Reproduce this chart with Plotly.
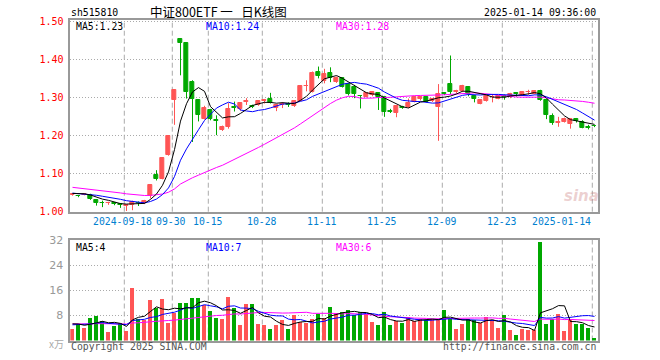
import plotly.graph_objects as go

# ---------------- data ----------------
dates = [
    "2024-09-03","2024-09-04","2024-09-05","2024-09-06","2024-09-09","2024-09-10","2024-09-11","2024-09-12","2024-09-13",
    "2024-09-18","2024-09-19","2024-09-20","2024-09-23","2024-09-24","2024-09-25","2024-09-26","2024-09-27","2024-09-30",
    "2024-10-08","2024-10-09","2024-10-10","2024-10-11","2024-10-14","2024-10-15","2024-10-16","2024-10-17","2024-10-18",
    "2024-10-21","2024-10-22","2024-10-23","2024-10-24","2024-10-25","2024-10-28","2024-10-29","2024-10-30","2024-10-31",
    "2024-11-01","2024-11-04","2024-11-05","2024-11-06","2024-11-07","2024-11-08","2024-11-11","2024-11-12","2024-11-13",
    "2024-11-14","2024-11-15","2024-11-18","2024-11-19","2024-11-20","2024-11-21","2024-11-22","2024-11-25","2024-11-26",
    "2024-11-27","2024-11-28","2024-11-29","2024-12-02","2024-12-03","2024-12-04","2024-12-05","2024-12-06","2024-12-09",
    "2024-12-10","2024-12-11","2024-12-12","2024-12-13","2024-12-16","2024-12-17","2024-12-18","2024-12-19","2024-12-20",
    "2024-12-23","2024-12-24","2024-12-25","2024-12-26","2024-12-27","2024-12-30","2024-12-31","2025-01-02","2025-01-03",
    "2025-01-06","2025-01-07","2025-01-08","2025-01-09","2025-01-10","2025-01-13","2025-01-14",
]

open_ = [1.044,1.041,1.044,1.044,1.030,1.024,1.022,1.022,1.019,1.015,1.017,1.024,1.023,1.040,1.096,1.087,1.150,1.293,
         1.453,1.443,1.340,1.293,1.244,1.267,1.242,1.214,1.223,1.276,1.270,1.288,1.278,1.281,1.290,1.296,1.272,1.281,
         1.282,1.277,1.291,1.329,1.315,1.367,1.343,1.363,1.341,1.350,1.335,1.328,1.305,1.302,1.306,1.311,1.302,1.265,
         1.258,1.276,1.274,1.289,1.295,1.300,1.291,1.276,1.312,1.335,1.314,1.317,1.328,1.303,1.284,1.291,1.300,1.297,
         1.303,1.300,1.311,1.307,1.313,1.310,1.317,1.293,1.252,1.233,1.236,1.229,1.243,1.236,1.222,1.226]
high = [1.047,1.043,1.047,1.047,1.031,1.029,1.026,1.025,1.021,1.020,1.029,1.027,1.031,1.071,1.109,1.141,1.199,1.320,
        1.455,1.444,1.345,1.294,1.278,1.270,1.253,1.226,1.285,1.289,1.287,1.298,1.281,1.293,1.296,1.312,1.283,1.288,
        1.287,1.292,1.331,1.345,1.368,1.381,1.375,1.379,1.355,1.353,1.337,1.333,1.306,1.314,1.314,1.313,1.304,1.270,
        1.279,1.278,1.297,1.304,1.304,1.302,1.297,1.335,1.314,1.410,1.320,1.333,1.329,1.305,1.295,1.306,1.309,1.305,
        1.308,1.312,1.314,1.315,1.320,1.318,1.320,1.294,1.258,1.249,1.247,1.246,1.246,1.240,1.228,1.228]
low = [1.042,1.038,1.043,1.031,1.016,1.012,1.018,1.017,1.010,1.002,1.004,1.015,1.020,1.035,1.082,1.085,1.147,1.228,
       1.358,1.297,1.183,1.237,1.242,1.240,1.201,1.212,1.218,1.263,1.265,1.280,1.272,1.278,1.284,1.284,1.264,1.272,
       1.275,1.275,1.290,1.316,1.313,1.350,1.337,1.340,1.338,1.326,1.305,1.298,1.271,1.300,1.303,1.267,1.249,1.259,
       1.248,1.270,1.272,1.287,1.292,1.287,1.288,1.186,1.306,1.309,1.310,1.314,1.303,1.287,1.282,1.289,1.287,1.295,
       1.294,1.298,1.302,1.306,1.307,1.308,1.291,1.243,1.228,1.223,1.234,1.218,1.234,1.219,1.216,1.222]
close = [1.046,1.040,1.046,1.034,1.023,1.022,1.024,1.020,1.017,1.017,1.025,1.022,1.028,1.070,1.087,1.140,1.198,1.320,
         1.444,1.315,1.295,1.255,1.271,1.243,1.239,1.223,1.269,1.273,1.286,1.290,1.276,1.291,1.292,1.286,1.279,1.283,
         1.280,1.290,1.330,1.331,1.365,1.357,1.361,1.352,1.352,1.328,1.309,1.309,1.303,1.312,1.313,1.302,1.262,1.263,
         1.277,1.273,1.286,1.302,1.301,1.289,1.295,1.309,1.310,1.315,1.316,1.331,1.309,1.296,1.293,1.304,1.302,1.303,
         1.300,1.310,1.309,1.313,1.315,1.317,1.293,1.254,1.232,1.236,1.243,1.243,1.237,1.221,1.220,1.225]
volume = [3.7,5.2,4.0,7.2,7.9,6.3,2.8,4.7,5.5,3.1,16.8,6.8,6.5,13.0,10.5,13.3,5.7,8.9,
          12.0,12.0,13.6,13.6,11.4,9.5,7.2,6.9,13.9,10.3,5.0,11.7,11.7,5.3,5.0,3.7,5.0,6.6,
          3.7,8.2,6.0,5.7,6.8,8.4,7.3,10.7,8.6,9.1,9.8,8.2,9.0,8.4,6.0,4.8,9.1,5.0,
          6.1,5.7,7.5,6.1,7.0,6.6,6.9,6.6,9.8,7.3,3.7,5.1,6.9,6.5,5.7,7.5,6.5,4.0,
          8.0,3.4,1.8,3.8,3.5,3.5,31.5,5.3,6.8,8.5,3.1,6.5,5.1,5.1,4.0,0.85]

# closes / volumes of the 29 sessions before the window (needed for the moving averages)
prior_close = [1.090,1.085,1.082,1.078,1.080,1.083,1.086,1.084,1.088,
               1.075,1.068,1.062,1.060,1.063,1.058,1.057,1.060,1.055,1.054,1.063,
               1.052,1.050,1.047,1.051,1.048,1.045,1.046,1.050,1.053]
prior_volume = [6.2,5.8,5.1,4.9,5.6,6.0,5.3,4.8,5.2,5.9,5.5,5.0,4.7,5.8,6.1,5.4,5.2,5.6,5.3,5.6,
                4.5,5.0,4.4,4.9,4.7,5.4,6.1,5.5,5.8]

tick_dates = ["2024-09-18","2024-09-30","2024-10-15","2024-10-28","2024-11-11","2024-11-25",
              "2024-12-09","2024-12-23","2025-01-14"]
tick_labels = ["2024-09-18","09-30","10-15","10-28","11-11","11-25","12-09","12-23","2025-01-14"]

price_ticks = [1.0, 1.1, 1.2, 1.3, 1.4, 1.5]
vol_ticks = [8, 16, 24, 32]

# ---------------- helpers ----------------
def moving_avg(prior, values, n):
    seq = list(prior) + list(values)
    off = len(prior)
    return [sum(seq[off + i - n + 1: off + i + 1]) / n for i in range(len(values))]

W, H = 660, 360
def px(x):
    return x / W
def py(y):
    return 1 - y / H

RED = "#ff5555"
GREEN = "#00a800"
MONO = "DejaVu Sans Mono"
FS = 9.8

n = len(dates)
xs = list(range(n))
is_up = [c >= o for o, c in zip(open_, close)]
colors = [RED if u else GREEN for u in is_up]

ma5 = moving_avg(prior_close, close, 5)
ma10 = moving_avg(prior_close, close, 10)
ma30 = moving_avg(prior_close, close, 30)
vma5 = moving_avg(prior_volume, volume, 5)
vma10 = moving_avg(prior_volume, volume, 10)
vma30 = moving_avg(prior_volume, volume, 30)

fig = go.Figure()

# wicks
for col, flag in ((RED, True), (GREEN, False)):
    wx, wy = [], []
    for i in xs:
        if is_up[i] == flag:
            wx += [i, i, None]
            wy += [low[i], high[i], None]
    fig.add_trace(go.Scatter(x=wx, y=wy, mode="lines", line=dict(color=col, width=1),
                             hoverinfo="skip", showlegend=False, xaxis="x", yaxis="y"))

# bodies
fig.add_trace(go.Bar(
    x=xs, y=[abs(c - o) for o, c in zip(open_, close)], base=[min(o, c) for o, c in zip(open_, close)],
    width=0.62, marker=dict(color=colors, line=dict(color=colors, width=1)),
    showlegend=False, xaxis="x", yaxis="y"))

for vals, col in ((ma30, "#ff00ff"), (ma10, "#0000ff"), (ma5, "#000000")):
    fig.add_trace(go.Scatter(x=xs, y=vals, mode="lines", line=dict(color=col, width=1),
                             showlegend=False, xaxis="x", yaxis="y"))

# volume
fig.add_trace(go.Bar(x=xs, y=volume, width=0.72, marker=dict(color=colors, line=dict(width=0)),
                     showlegend=False, xaxis="x2", yaxis="y2"))
for vals, col in ((vma30, "#ff00ff"), (vma10, "#0000ff"), (vma5, "#000000")):
    fig.add_trace(go.Scatter(x=xs, y=vals, mode="lines", line=dict(color=col, width=1),
                             showlegend=False, xaxis="x2", yaxis="y2"))

# ---------------- layout ----------------
x_left, x_right = 70.3, 597.7
slot = 6.0
first_center = 72.5
x_range = [(x_left - first_center) / slot, (x_right - first_center) / slot]
edge = -2.2 / slot  # grid lines sit at the left edge of the candle

axis_common = dict(showline=True, mirror=True, linecolor="#999999", linewidth=1.5,
                   zeroline=False, fixedrange=True, automargin=False)
fig.update_layout(
    width=W, height=H, autosize=False,
    margin=dict(l=0, r=0, t=0, b=0, pad=0, autoexpand=False),
    paper_bgcolor="white", plot_bgcolor="white",
    barmode="overlay", bargap=0,
    xaxis=dict(domain=[px(x_left), px(x_right)], range=x_range, showgrid=False,
               showticklabels=False, ticks="", anchor="y", **axis_common),
    xaxis2=dict(domain=[px(x_left), px(x_right)], range=x_range, matches="x", showgrid=False,
                showticklabels=False, ticks="", anchor="y2", **axis_common),
    yaxis=dict(domain=[py(211.7), py(20)], range=[1.0, 1.5032], tickvals=price_ticks,
               ticktext=[f"{v:.2f}" for v in price_ticks], ticks="", ticklabelstandoff=3,
               tickfont=dict(family=MONO, size=10, color="#ff0000"),
               showgrid=True, gridcolor="#aaaaaa", gridwidth=1, griddash="1px,2px",
               anchor="x", **axis_common),
    yaxis2=dict(domain=[py(340.5), py(240)], range=[0, 32], tickvals=vol_ticks,
                ticktext=[str(v) for v in vol_ticks], ticks="", ticklabelstandoff=3,
                tickfont=dict(family="DejaVu Sans", size=11, color="#999999"),
                showgrid=True, gridcolor="#aaaaaa", gridwidth=1, griddash="1px,2px",
                anchor="x2", **axis_common),
    font=dict(family=MONO, size=FS, color="#000000"),
)

# vertical dashed date lines
shapes = []
for d in tick_dates:
    i = dates.index(d)
    for yref in ("y domain", "y2 domain"):
        shapes.append(dict(type="line", xref="x", yref=yref, x0=i + edge, x1=i + edge, y0=0, y1=1,
                           line=dict(color="#aaaaaa", width=1, dash="5px,3px"), layer="below"))
fig.update_layout(shapes=shapes)

ann = []
def text(x, y, s, color="#000000", size=FS, family=MONO, xanchor="left", **kw):
    ann.append(dict(xref="paper", yref="paper", x=px(x), y=py(y), text=s, showarrow=False,
                    xanchor=xanchor, yanchor="middle", font=dict(family=family, size=size, color=color), **kw))

text(69, 13, "sh515810")
text(218.5, 12, "中证800ETF&nbsp;一&nbsp;&nbsp;&nbsp;日K线图", size=12.5, family="Noto Sans CJK SC", xanchor="center")
text(598, 13, "2025-01-14 09:36:00", xanchor="right")

text(74, 26.5, f"MA5:{ma5[-1]:.2f}", color="#000000")
text(204, 26.5, f"MA10:{ma10[-1]:.2f}", color="#0000ff")
text(334, 26.5, f"MA30:{ma30[-1]:.2f}", color="#ff00ff")

text(74, 247, f"MA5:{int(vma5[-1])}", color="#000000")
text(204, 247, f"MA10:{int(vma10[-1])}", color="#0000ff")
text(334, 247, f"MA30:{int(vma30[-1])}", color="#ff00ff")

text(66, 343, "x万", color="#aaaaaa", size=10, family="Noto Sans CJK SC", xanchor="right")
text(69, 346, "Copyright 2025 SINA.COM", color="#555555")
text(598, 346, "http://finance.sina.com.cn", color="#555555", xanchor="right")

# date labels under the price panel
label_shift = {"2024-09-18": -2, "09-30": -1, "2025-01-14": -31}
for d, lab in zip(tick_dates, tick_labels):
    i = dates.index(d)
    ann.append(dict(xref="x", yref="paper", x=i + edge, y=py(221.5), text=lab, showarrow=False,
                    xanchor="center", yanchor="middle", xshift=label_shift.get(lab, 0),
                    font=dict(family=MONO, size=FS, color="#0080d0")))

# sina watermark
ann.append(dict(xref="paper", yref="paper", x=px(581), y=py(196), text="<i><b>sina</b></i>", showarrow=False,
                xanchor="center", yanchor="middle",
                font=dict(family="DejaVu Sans", size=15, color="rgba(200,120,120,0.35)")))
fig.update_layout(annotations=ann)

fig.write_html(
    "out.html",
    config={"responsive": False, "displayModeBar": False},
    post_script="document.body.style.margin='0';document.body.style.padding='0';"
                "document.body.style.overflow='hidden';",
)
